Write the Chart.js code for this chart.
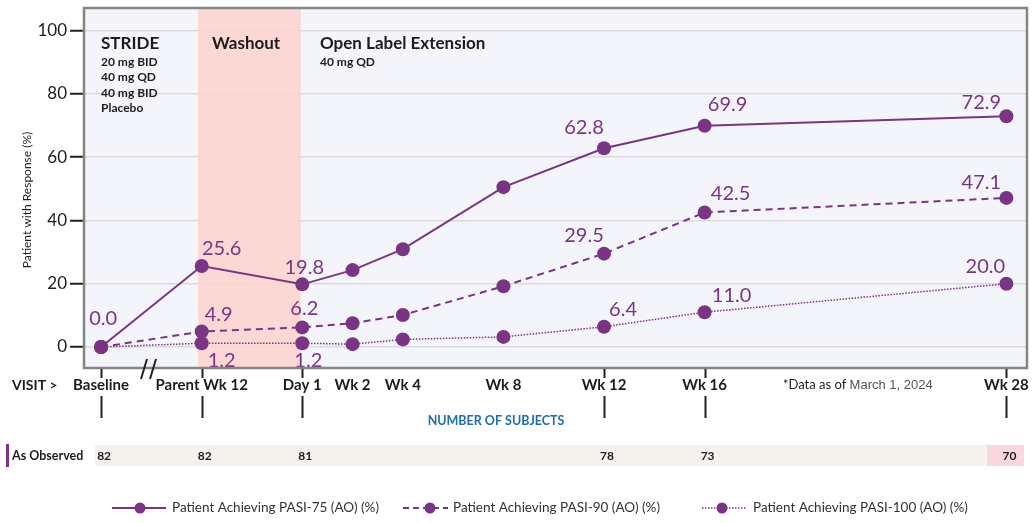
<!DOCTYPE html>
<html>
<head>
<meta charset="utf-8">
<script src="https://cdn.jsdelivr.net/npm/chart.js@4.4.1/dist/chart.umd.min.js"></script>
<style>
  html, body { margin: 0; padding: 0; background: #fff; }
  #wrap { position: relative; width: 1034px; height: 523px; }
</style>
</head>
<body>
<div id="wrap"><canvas id="chart" width="1034" height="523"></canvas></div>
<script>
// visits and their spacing on the x axis
const visits = ['Baseline', 'Parent Wk 12', 'Day 1', 'Wk 2', 'Wk 4', 'Wk 8', 'Wk 12', 'Wk 16', 'Wk 28'];
const visitPos = [0, 2, 4, 5, 6, 8, 10, 12, 18];

// response rates (%)
const pasi75 = [0.0, 25.6, 19.8, 24.3, 30.9, 50.5, 62.8, 69.9, 72.9];
const pasi90 = [0.0, 4.9, 6.2, 7.5, 10.1, 19.2, 29.5, 42.5, 47.1];
const pasi100 = [0.0, 1.2, 1.2, 0.9, 2.4, 3.2, 6.4, 11.0, 20.0];

// points that carry a value label
const labelled75 = [0, 1, 2, 6, 7, 8];
const labelled90 = [1, 2, 6, 7, 8];
const labelled100 = [1, 2, 6, 7, 8];

// number of subjects (as observed)
const asObserved = [82, 82, 81, null, null, null, 78, 73, 70];
// visits with a tick mark under the axis
const markedVisits = [0, 1, 2, 6, 7, 8];

const yTicks = [0, 20, 40, 60, 80, 100];
const washout = [1.93, 3.97];

const purple = '#7a3485';
const ink = '#1c1c1c';
const font = 'Lato, "Open Sans", sans-serif';

// label offsets from the point (px), per series / visit index
const labelOffsets = [
    {0: [2, -28], 1: [20, -17], 2: [2, -17], 6: [-20, -21], 7: [23, -21], 8: [-25, -14]},
    {1: [17, -17], 2: [2, -19], 6: [-20, -18], 7: [26, -19], 8: [-25, -15]},
    {1: [20, 17], 2: [6, 17], 6: [19, -17], 7: [27, -17], 8: [-21, -17]},
];
const labelLists = [labelled75, labelled90, labelled100];

const toPoints = (arr) => arr.map((v, i) => ({x: visitPos[i], y: v}));

const backdrop = {
    id: 'backdrop',
    beforeDraw(chart) {
        const {ctx, chartArea: a} = chart;
        ctx.save();
        ctx.fillStyle = '#f4f5fb';
        ctx.fillRect(a.left, a.top, a.right - a.left, a.bottom - a.top);
        ctx.restore();
    },
    beforeDatasetsDraw(chart) {
        const {ctx, chartArea: a, scales: {x}} = chart;
        const x0 = x.getPixelForValue(washout[0]);
        const x1 = x.getPixelForValue(washout[1]);
        ctx.save();
        ctx.fillStyle = 'rgba(253, 210, 205, 0.85)';
        ctx.fillRect(x0, a.top, x1 - x0, a.bottom - a.top);

        // panel headings
        ctx.fillStyle = ink;
        ctx.textBaseline = 'middle';
        ctx.textAlign = 'left';
        ctx.font = 'bold 17px ' + font;
        ctx.fillText('STRIDE', 101, 44);
        ctx.fillText('Washout', 212, 44);
        ctx.fillText('Open Label Extension', 320, 44);
        ctx.font = 'bold 12px ' + font;
        ['20 mg BID', '40 mg QD', '40 mg BID', 'Placebo'].forEach((t, i) => {
            ctx.fillText(t, 101, 62 + i * 15.5);
        });
        ctx.fillText('40 mg QD', 320, 62);
        ctx.restore();
    },
    afterDatasetsDraw(chart) {
        const {ctx} = chart;
        ctx.save();
        ctx.fillStyle = purple;
        ctx.font = '20px ' + font;
        ctx.textAlign = 'center';
        ctx.textBaseline = 'middle';
        chart.data.datasets.forEach((ds, di) => {
            const meta = chart.getDatasetMeta(di);
            labelLists[di].forEach((idx) => {
                const pt = meta.data[idx];
                const off = labelOffsets[di][idx];
                ctx.fillText(ds.data[idx].y.toFixed(1), pt.x + off[0], pt.y + off[1]);
            });
        });
        ctx.restore();
    },
    afterDraw(chart) {
        const {ctx, chartArea: a, scales: {x}} = chart;
        ctx.save();
        // frame
        ctx.strokeStyle = '#858585';
        ctx.lineWidth = 2.5;
        ctx.strokeRect(a.left, a.top, a.right - a.left, a.bottom - a.top);

        // y title
        ctx.fillStyle = ink;
        ctx.font = '12px ' + font;
        ctx.textAlign = 'center';
        ctx.textBaseline = 'middle';
        ctx.save();
        ctx.translate(27, 200);
        ctx.rotate(-Math.PI / 2);
        ctx.fillText('Patient with Response (%)', 0, 0);
        ctx.restore();

        // tick marks under the axis
        ctx.strokeStyle = '#222';
        ctx.lineWidth = 2;
        markedVisits.forEach((i) => {
            const px = Math.round(x.getPixelForValue(visitPos[i])) + 0.5;
            ctx.beginPath();
            ctx.moveTo(px, a.bottom + 1);
            ctx.lineTo(px, a.bottom + 10);
            ctx.moveTo(px, a.bottom + 28);
            ctx.lineTo(px, a.bottom + 50);
            ctx.stroke();
        });

        // axis break
        ctx.beginPath();
        ctx.moveTo(141, 379); ctx.lineTo(147, 359);
        ctx.moveTo(150, 379); ctx.lineTo(156, 359);
        ctx.stroke();

        ctx.textBaseline = 'middle';
        ctx.textAlign = 'left';
        ctx.font = 'bold 14px ' + font;
        ctx.fillText('VISIT >', 12, 385);

        ctx.font = '13px ' + font;
        ctx.fillStyle = '#222';
        ctx.fillText('*Data as of', 783, 385);
        const w = ctx.measureText('*Data as of ').width;
        ctx.font = '13px "Liberation Sans", Arial, sans-serif';
        ctx.fillStyle = '#555';
        ctx.fillText('March 1, 2024', 783 + w, 385);

        ctx.font = 'bold 12.5px ' + font;
        ctx.fillStyle = '#1f6cb4';
        ctx.textAlign = 'center';
        ctx.fillText('NUMBER OF SUBJECTS', 496, 421);

        // subjects row
        ctx.fillStyle = '#f6f2ee';
        ctx.fillRect(95, 445, 929, 21);
        ctx.fillStyle = '#f8d8dc';
        ctx.fillRect(987, 445, 37, 21);
        ctx.fillStyle = purple;
        ctx.fillRect(6, 444, 3, 23);
        ctx.fillStyle = ink;
        ctx.textAlign = 'left';
        ctx.font = 'bold 12.5px ' + font;
        ctx.fillText('As Observed', 12, 456);
        ctx.textAlign = 'center';
        ctx.font = 'bold 12px ' + font;
        asObserved.forEach((n, i) => {
            if (n === null) return;
            ctx.fillText(String(n), x.getPixelForValue(visitPos[i]) + 3, 456);
        });

        // legend
        const items = [
            {x0: 112, x1: 166, dot: 140, tx: 172, dash: [], lw: 2, text: 'Patient Achieving PASI-75 (AO) (%)'},
            {x0: 403, x1: 448, dot: 430, tx: 453, dash: [6, 4], lw: 2, text: 'Patient Achieving PASI-90 (AO) (%)'},
            {x0: 702, x1: 747, dot: 722, tx: 753, dash: [1.5, 1.5], lw: 1.5, text: 'Patient Achieving PASI-100 (AO) (%)'},
        ];
        const ly = 508;
        items.forEach((it) => {
            ctx.strokeStyle = purple;
            ctx.lineWidth = it.lw;
            ctx.setLineDash(it.dash);
            ctx.beginPath();
            ctx.moveTo(it.x0, ly);
            ctx.lineTo(it.x1, ly);
            ctx.stroke();
            ctx.setLineDash([]);
            ctx.fillStyle = purple;
            ctx.beginPath();
            ctx.arc(it.dot, ly, 5.5, 0, Math.PI * 2);
            ctx.fill();
            ctx.fillStyle = '#333';
            ctx.font = '13.5px ' + font;
            ctx.textAlign = 'left';
            ctx.fillText(it.text, it.tx, ly);
        });
        ctx.restore();
    },
};

const baseDataset = {
    borderColor: purple,
    backgroundColor: purple,
    pointBackgroundColor: purple,
    pointBorderWidth: 0,
    pointRadius: 7,
    pointHoverRadius: 7,
    tension: 0,
    fill: false,
};

const ctx = document.getElementById('chart').getContext('2d');
new Chart(ctx, {
    type: 'line',
    data: {
        datasets: [
            {...baseDataset, label: 'PASI-75', data: toPoints(pasi75), borderWidth: 2},
            {...baseDataset, label: 'PASI-90', data: toPoints(pasi90), borderWidth: 2, borderDash: [7, 5]},
            {...baseDataset, label: 'PASI-100', data: toPoints(pasi100), borderWidth: 1.5, borderDash: [1.5, 1.5]},
        ],
    },
    options: {
        responsive: false,
        animation: false,
        layout: {
            padding: {left: 0, top: 8, right: 7, bottom: 0},
        },
        scales: {
            x: {
                type: 'linear',
                min: -0.34,
                max: 18.41,
                afterBuildTicks: (scale) => {
                    scale.ticks = visitPos.map(v => ({value: v}));
                },
                afterFit: (scale) => {
                    scale.height = 155;
                    scale.paddingLeft = 0;
                    scale.paddingRight = 0;
                },
                border: {display: false},
                grid: {display: false, drawTicks: false},
                ticks: {
                    autoSkip: false,
                    maxRotation: 0,
                    padding: 8,
                    color: ink,
                    font: {family: font, size: 15, weight: 'bold'},
                    callback: (value) => visits[visitPos.indexOf(value)],
                },
            },
            y: {
                min: -6.63,
                max: 107.1,
                afterBuildTicks: (scale) => {
                    scale.ticks = yTicks.map(v => ({value: v}));
                },
                afterFit: (scale) => {
                    scale.width = 84;
                    scale.paddingTop = 0;
                    scale.paddingBottom = 0;
                },
                border: {display: false},
                grid: {
                    color: '#d9d9de',
                    lineWidth: 1.5,
                    drawTicks: true,
                    tickLength: 14,
                    tickColor: '#222',
                    tickWidth: 2,
                },
                ticks: {
                    padding: 3,
                    color: ink,
                    font: {family: font, size: 17},
                },
            },
        },
        plugins: {
            legend: {display: false},
            tooltip: {enabled: false},
        },
    },
    plugins: [backdrop],
});
</script>
</body>
</html>
